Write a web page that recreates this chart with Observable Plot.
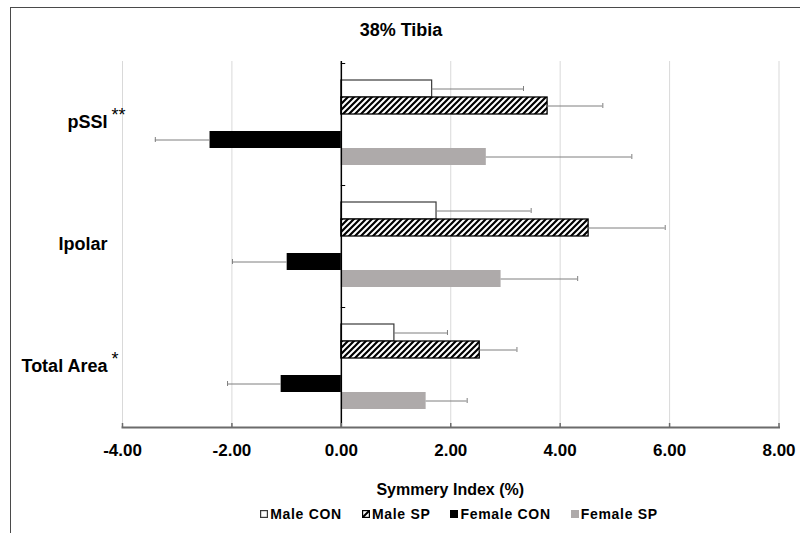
<!DOCTYPE html>
<html>
<head>
<meta charset="utf-8">
<script src="https://cdn.jsdelivr.net/npm/d3@7"></script>
<script src="https://cdn.jsdelivr.net/npm/@observablehq/plot@0.6"></script>
<style>
  html, body { margin: 0; padding: 0; background: #fff; }
  body { width: 800px; height: 533px; position: relative; overflow: hidden; font-family: "Liberation Sans", Arial, sans-serif; }
  #border { position: absolute; left: 10px; top: 7px; width: 900px; height: 700px; border: 1px solid #4a4a4a; box-sizing: border-box; }
  #title { position: absolute; left: 1px; top: 20px; width: 800px; text-align: center; font-size: 18px; font-weight: bold; line-height: 20px; color: #000; }
  #chart { position: absolute; left: 0; top: 0; }
  #xlabel { position: absolute; left: 122px; width: 656.5px; top: 480px; text-align: center; font-size: 16px; font-weight: bold; line-height: 19px; color: #000; }
  #legend { position: absolute; left: 0; width: 918px; top: 506px; display: flex; justify-content: center; gap: 20px; font-size: 14px; font-weight: bold; line-height: 16px; color: #000; }
  #legend .item { display: flex; align-items: center; gap: 2px; letter-spacing: 0.7px; }
  #legend svg { display: block; }
</style>
</head>
<body>
<svg width="0" height="0" style="position:absolute">
  <defs>
    <pattern id="hatch" patternUnits="userSpaceOnUse" width="6" height="6">
      <rect width="6" height="6" fill="white"></rect>
      <path d="M-1,1 l2,-2 M0,6 l6,-6 M5,7 l2,-2" stroke="black" stroke-width="2.2"></path>
    </pattern>
  </defs>
</svg>
<div id="border"></div>
<div id="title">38% Tibia</div>
<div id="chart"></div>
<div id="xlabel"></div>
<div id="legend"></div>
<script>
// ---- data ----
const categories = ["pSSI", "Ipolar", "Total Area"];
const significance = ["**", "", "*"];
const series = ["Male CON", "Male SP", "Female CON", "Female SP"];
const maleCon    = [1.66, 1.74, 0.97];
const maleConErr = [1.67, 1.73, 0.97];
const maleSp     = [3.77, 4.52, 2.53];
const maleSpErr  = [1.01, 1.40, 0.68];
const femaleCon    = [-2.40, -0.99, -1.10];
const femaleConErr = [1.00, 1.00, 0.98];
const femaleSp     = [2.65, 2.92, 1.55];
const femaleSpErr  = [2.66, 1.40, 0.75];
const xTicks = [-4, -2, 0, 2, 4, 6, 8];
const xTitle = "Symmery Index (%)";

// ---- build table ----
const values = [maleCon, maleSp, femaleCon, femaleSp];
const errors = [maleConErr, maleSpErr, femaleConErr, femaleSpErr];
const rows = categories.flatMap((c, i) => series.map((s, j) => ({
  cat: c, series: s, v: values[j][i], err: errors[j][i]
})));
const sig = categories.map((c, i) => ({cat: c, mark: significance[i]})).filter(d => d.mark);
// slot order inside each group (an empty slot between male and female bars)
const slots = ["Male CON", "Male SP", " ", "Female CON", "Female SP"];

const styles = {
  "Male CON":   {fill: "white", stroke: "#3a3a3a", strokeWidth: 1.2},
  "Male SP":    {fill: "url(#hatch)", stroke: "black", strokeWidth: 1.3},
  "Female CON": {fill: "black"},
  "Female SP":  {fill: "#aeaaaa"}
};

const errEnd = d => d.v + Math.sign(d.v) * d.err;

const bars = series.map(s => Plot.barX(rows, {
  filter: d => d.series === s, fy: "cat", y: "series", x: "v", ...styles[s]
}));

const chart = Plot.plot({
  width: 800,
  height: 470,
  marginTop: 60,
  marginBottom: 42,
  marginLeft: 122,
  marginRight: 21.5,
  style: {fontFamily: "'Liberation Sans', Arial, sans-serif", fontSize: "17px", fontWeight: "bold", color: "black", background: "transparent"},
  x: {domain: [-4, 8]},
  y: {domain: slots, paddingInner: 0, paddingOuter: 0.917, axis: null},
  fy: {domain: categories, padding: 0},
  marks: [
    Plot.gridX(xTicks.filter(t => t !== 0), {stroke: "#d9d9d9", strokeOpacity: 1}),
    ...bars,
    Plot.ruleY(rows, {fy: "cat", y: "series", x1: "v", x2: errEnd, stroke: "#7f7f7f", strokeWidth: 1}),
    Plot.tickX(rows, {fy: "cat", y: "series", x: errEnd, stroke: "#7f7f7f", strokeWidth: 1, insetTop: 6, insetBottom: 6}),
    Plot.ruleX([0], {stroke: "black", strokeWidth: 1.5}),
    Plot.ruleY(categories, {fy: d => d, y: () => "Male CON", x1: 0, x2: 0.08, dy: -25.47, stroke: "black", strokeWidth: 1}),
    Plot.frame({anchor: "bottom", facetAnchor: "bottom", stroke: "#6b6b6b", strokeWidth: 2}),
    Plot.axisX({ticks: xTicks, tickSize: 4, dy: -4, tickFormat: () => "", stroke: "#6b6b6b", strokeWidth: 1.5, label: null}),
    Plot.axisX({ticks: xTicks, tickSize: 0, tickPadding: 16, tickFormat: d => d.toFixed(2), label: null, fill: "black"}),
    Plot.axisFy({anchor: "left", tickSize: 0, tickPadding: 15, label: null, fill: "black", fontSize: 18}),
    Plot.text(sig, {fy: "cat", text: "mark", frameAnchor: "left", textAnchor: "start", dx: -11, dy: -7, fontSize: 18, fontWeight: "normal", fill: "black"})
  ]
});
document.getElementById("chart").appendChild(chart);
document.getElementById("xlabel").textContent = xTitle;

// ---- legend ----
const legend = d3.select("#legend");
series.forEach(s => {
  const st = styles[s];
  const item = legend.append("div").attr("class", "item");
  const sw = item.append("svg").attr("width", 8).attr("height", 8);
  if (s === "Male SP") {
    sw.append("rect").attr("x", 0.6).attr("y", 0.6).attr("width", 6.8).attr("height", 6.8).attr("fill", "white").attr("stroke", "black").attr("stroke-width", 1.2);
    sw.append("path").attr("d", "M1,7 L7,1").attr("stroke", "black").attr("stroke-width", 2);
  } else {
    sw.append("rect").attr("x", 0.6).attr("y", 0.6).attr("width", 6.8).attr("height", 6.8)
      .attr("fill", st.fill).attr("stroke", st.stroke || st.fill).attr("stroke-width", 1.2);
  }
  item.append("span").text(s);
});
</script>
</body>
</html>
